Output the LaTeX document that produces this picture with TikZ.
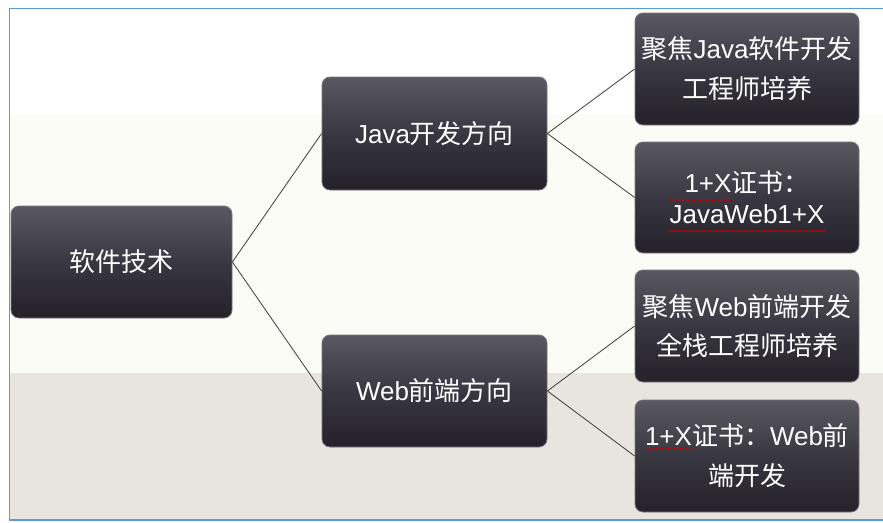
\documentclass[tikz,border=0pt]{standalone}
\usepackage{fontspec}
\setmainfont{Liberation Sans}
\newfontfamily\cjk{Noto Sans CJK SC}
\usetikzlibrary{shadings,decorations.pathmorphing}
\definecolor{bordblue}{HTML}{5B9BD5}
\definecolor{creambg}{HTML}{FCFCF6}
\definecolor{graybg}{HTML}{E8E5DE}
\definecolor{boxtop}{HTML}{5A5962}
\definecolor{boxmid}{HTML}{393741}
\definecolor{boxbot}{HTML}{24212A}
\definecolor{boxedge}{HTML}{77767E}
\definecolor{linkcol}{HTML}{3C3C3C}
\tikzset{
  darkbox/.style={rectangle, rounded corners=8pt, draw=boxedge, line width=0.8pt,
    top color=boxtop, bottom color=boxbot, middle color=boxmid,
    text=white, align=center, inner sep=2pt,
    font=\fontsize{26}{40}\selectfont},
  link/.style={draw=linkcol, line width=0.8pt},
  squig/.style={draw=red!80!black, line width=0.6pt,
    decorate, decoration={snake, segment length=3pt, amplitude=0.8pt}}
}
\begin{document}
\begin{tikzpicture}[x=1pt,y=-1pt]
\useasboundingbox (0,0) rectangle (883,522);
% background bands
\fill[white] (0,0) rectangle (883,522);
\fill[creambg] (9.5,115) rectangle (883,373);
\fill[graybg] (9.5,373) rectangle (883,520);
\draw[bordblue, line width=1.5pt] (883,8.5) -- (9.5,8.5) -- (9.5,520) -- (883,520);
% boxes
\node[darkbox, minimum width=221pt, minimum height=112pt] (root) at (121.5,262) {{\cjk 软件技术}};
\node[darkbox, minimum width=225pt, minimum height=113pt] (java) at (434.5,133.5) {Java{\cjk 开发方向}};
\node[darkbox, minimum width=225pt, minimum height=112pt] (web) at (434.5,391) {Web{\cjk 前端方向}};
\node[darkbox, minimum width=224pt, minimum height=112pt] (j1) at (747,69) {{\cjk 聚焦}Java{\cjk 软件开发}\\{\cjk 工程师培养}};
\node[darkbox, minimum width=224pt, minimum height=111pt, font=\fontsize{26}{31}\selectfont] (j2) at (747,197.5) {1+X{\cjk 证书：}\\JavaWeb1+X};
\node[darkbox, minimum width=224pt, minimum height=112pt, font=\fontsize{26}{39}\selectfont] (w1) at (747,326) {{\cjk 聚焦}Web{\cjk 前端开发}\\{\cjk 全栈工程师培养}};
\node[darkbox, minimum width=224pt, minimum height=112pt] (w2) at (747,456) {1+X{\cjk 证书：}Web{\cjk 前}\\{\cjk 端开发}};
% connectors
\draw[link] (root.east) -- (java.west);
\draw[link] (root.east) -- (web.west);
\draw[link] (java.east) -- (j1.west);
\draw[link] (java.east) -- (j2.west);
\draw[link] (web.east) -- (w1.west);
\draw[link] (web.east) -- (w2.west);
% spell-check underlines
\draw[squig] (668,200) -- (733,200);
\draw[squig] (668,231) -- (826,231);
\draw[squig] (645,448) -- (693,448);
\end{tikzpicture}
\end{document}
